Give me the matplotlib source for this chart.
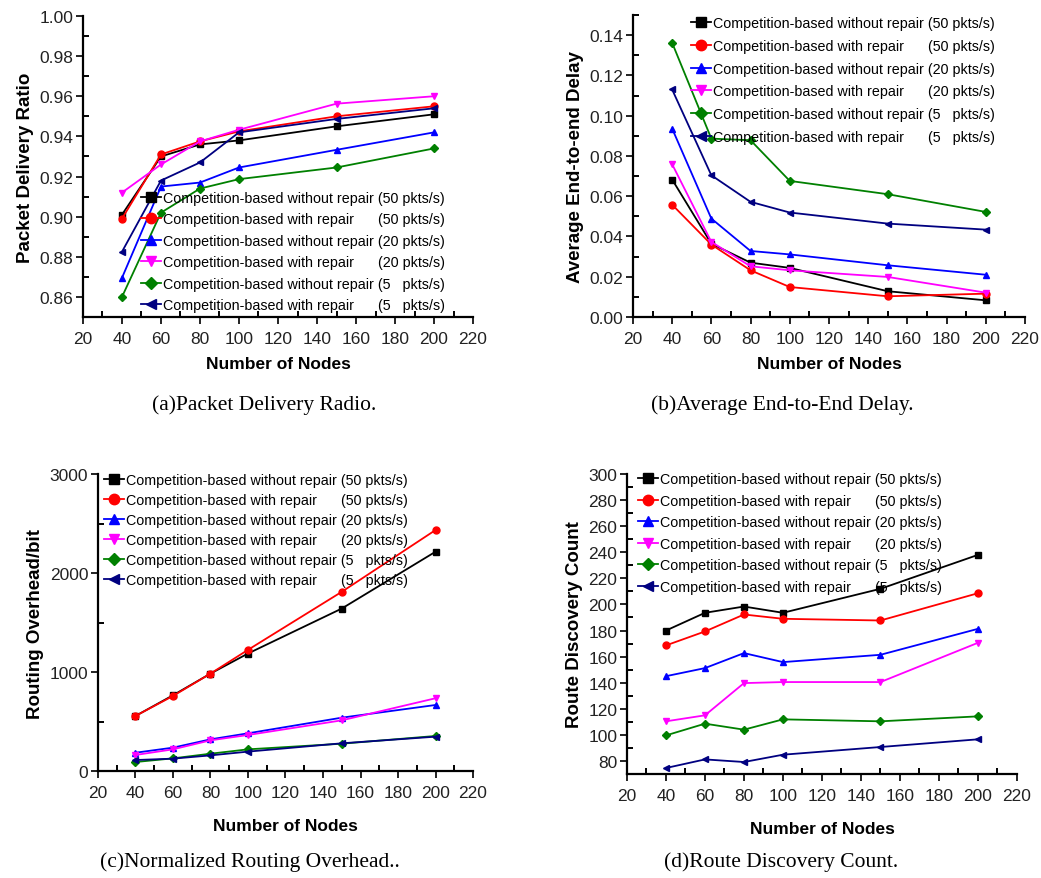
import numpy as np
import matplotlib
matplotlib.use('Agg')
import matplotlib.pyplot as plt
import matplotlib.ticker as ticker

plt.rcParams['font.family'] = ['Liberation Sans', 'DejaVu Sans']

nodes = [40, 60, 80, 100, 150, 200]

labels = ['Competition-based without repair (50 pkts/s)',
          'Competition-based with repair      (50 pkts/s)',
          'Competition-based without repair (20 pkts/s)',
          'Competition-based with repair      (20 pkts/s)',
          'Competition-based without repair (5   pkts/s)',
          'Competition-based with repair      (5   pkts/s)']
colors = ['black', 'red', 'blue', 'magenta', '#008000', '#000080']
markers = ['s', 'o', '^', 'v', 'D', '<']

# (a) packet delivery ratio
pdr_black = [0.901, 0.930, 0.936, 0.938, 0.945, 0.951]
pdr_red = [0.899, 0.931, 0.9375, 0.9425, 0.950, 0.955]
pdr_blue = [0.8695, 0.915, 0.917, 0.9245, 0.9333, 0.942]
pdr_magenta = [0.912, 0.926, 0.9375, 0.9433, 0.9563, 0.960]
pdr_green = [0.860, 0.902, 0.914, 0.9187, 0.9245, 0.934]
pdr_navy = [0.8825, 0.918, 0.927, 0.942, 0.9487, 0.954]

# (b) average end-to-end delay
delay_black = [0.0683, 0.0364, 0.027, 0.0244, 0.0128, 0.0083]
delay_red = [0.0558, 0.036, 0.0232, 0.0149, 0.0103, 0.0116]
delay_blue = [0.0936, 0.0489, 0.0328, 0.0311, 0.0257, 0.021]
delay_magenta = [0.0759, 0.0373, 0.0252, 0.0232, 0.0199, 0.0121]
delay_green = [0.1362, 0.0886, 0.0878, 0.0676, 0.061, 0.0522]
delay_navy = [0.113, 0.0704, 0.0572, 0.0519, 0.0464, 0.0434]

# (c) routing overhead
ovh_black = [556, 765, 984, 1187, 1641, 2215]
ovh_red = [556, 758, 984, 1224, 1810, 2434]
ovh_blue = [185, 236, 320, 381, 539, 667]
ovh_magenta = [162, 219, 310, 364, 512, 735]
ovh_green = [91, 128, 175, 219, 276, 354]
ovh_navy = [111, 125, 158, 196, 280, 347]

# (d) route discovery count
rdc_black = [180, 193.6, 198.4, 193.6, 212, 238]
rdc_red = [168.6, 179.3, 192.3, 189, 187.7, 208.6]
rdc_blue = [145, 151.2, 162.7, 155.8, 161.4, 181.3]
rdc_magenta = [110.4, 115, 139.7, 140.5, 140.5, 170.6]
rdc_green = [99.6, 108.6, 104, 111.9, 110.4, 114.2]
rdc_navy = [74.6, 81.2, 79.2, 84.8, 90.7, 96.6]

fig = plt.figure(figsize=(10.41, 8.79), dpi=100)

panels = [
    dict(rect=[0.0797, 0.6382, 0.3747, 0.3425],
         data=[pdr_black, pdr_red, pdr_blue, pdr_magenta, pdr_green, pdr_navy],
         ylim=(0.85, 1.0), major=0.02, minor=0.01, fmt='%.2f',
         ylabel='Packet Delivery Ratio', leg=(0.131, 0.443), spacing=0.52,
         xpad=7, caption='(a)Packet Delivery Radio.', cap=(0.2536, 0.539)),
    dict(rect=[0.608, 0.6382, 0.3766, 0.3436],
         data=[delay_black, delay_red, delay_blue, delay_magenta, delay_green, delay_navy],
         ylim=(0.0, 0.15), major=0.02, minor=0.01, fmt='%.2f',
         ylabel='Average End-to-end Delay', leg=(0.130, 1.02), spacing=0.61,
         xpad=7, caption='(b)Average End-to-End Delay.', cap=(0.751, 0.539)),
    dict(rect=[0.0941, 0.1217, 0.3603, 0.3379],
         data=[ovh_black, ovh_red, ovh_blue, ovh_magenta, ovh_green, ovh_navy],
         ylim=(0, 3000), major=1000, minor=500, fmt='%d',
         ylabel='Routing Overhead/bit', leg=(-0.004, 1.026), spacing=0.42,
         xpad=13, caption='(c)Normalized Routing Overhead..', cap=(0.240, 0.019)),
    dict(rect=[0.6023, 0.1183, 0.3746, 0.3413],
         data=[rdc_black, rdc_red, rdc_blue, rdc_magenta, rdc_green, rdc_navy],
         ylim=(70, 300), major=20, minor=10, fmt='%d',
         ylabel='Route Discovery Count', leg=(0.009, 1.03), spacing=0.53,
         xpad=13, caption='(d)Route Discovery Count.', cap=(0.750, 0.019)),
]

for p in panels:
    ax = fig.add_axes(p['rect'])
    for series, lab, c, m in zip(p['data'], labels, colors, markers):
        ax.plot(nodes, series, color=c, marker=m, markersize=5 if m != 'D' else 4,
                linewidth=1.3, label=lab)
    ax.set_xlim(20, 220)
    ax.set_ylim(*p['ylim'])
    ax.spines['top'].set_visible(False)
    ax.spines['right'].set_visible(False)
    ax.spines['left'].set_linewidth(1.6)
    ax.spines['bottom'].set_linewidth(1.6)

    ax.xaxis.set_major_locator(ticker.MultipleLocator(20))
    ax.xaxis.set_minor_locator(ticker.MultipleLocator(10))
    ax.yaxis.set_major_locator(ticker.MultipleLocator(p['major']))
    ax.yaxis.set_minor_locator(ticker.MultipleLocator(p['minor']))
    ax.yaxis.set_major_formatter(ticker.FormatStrFormatter(p['fmt']))
    ax.tick_params(which='major', direction='out', length=5, width=1.4,
                   labelsize=12.5, colors='#222222', pad=2)
    ax.tick_params(axis='x', which='major', pad=5)
    ax.tick_params(which='minor', direction='in', length=4, width=1.4)

    ax.set_xlabel('Number of Nodes', fontsize=12.5, fontweight='bold', labelpad=p['xpad'])
    ax.set_ylabel(p['ylabel'], fontsize=13.5, fontweight='bold', labelpad=4)

    ax.legend(loc='upper left', bbox_to_anchor=p['leg'], frameon=False,
              handlelength=1.4, handletextpad=0.15, borderpad=0,
              labelspacing=p['spacing'], markerscale=1.5,
              prop={'family': ['Liberation Sans', 'DejaVu Sans'], 'size': 10.3})

    fig.text(p['cap'][0], p['cap'][1], p['caption'], ha='center', va='center',
             fontsize=15.5, family=['Liberation Serif', 'DejaVu Serif'])

fig.savefig('out.png', dpi=100)
